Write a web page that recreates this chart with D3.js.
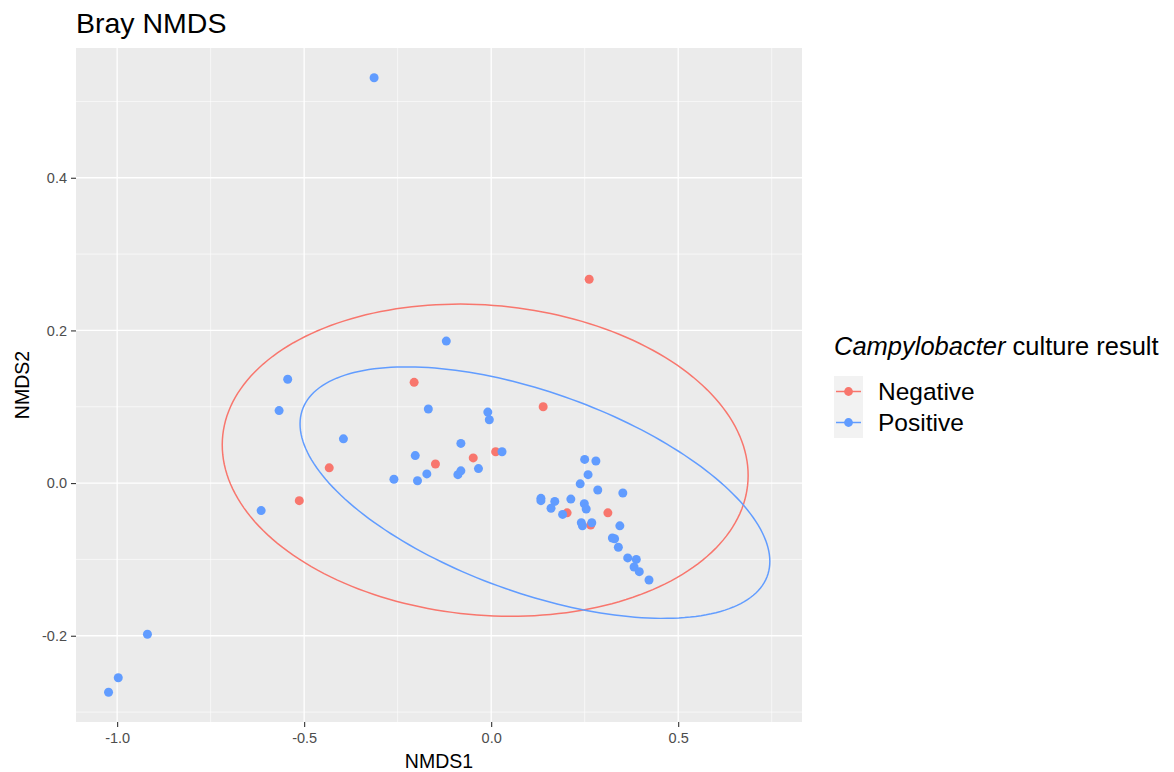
<!DOCTYPE html>
<html>
<head>
<meta charset="utf-8">
<script src="https://cdn.jsdelivr.net/npm/d3@7"></script>
<style>
  body { margin: 0; background: #fff; }
  svg { font-family: "Liberation Sans", Arial, sans-serif; }
</style>
</head>
<body>
<div id="root"></div>
<script>
// NMDS scores, [NMDS1, NMDS2]
const negativePoints = [
  [0.262, 0.267], [-0.206, 0.132], [0.139, 0.100], [-0.433, 0.020],
  [-0.149, 0.025], [-0.048, 0.033], [0.012, 0.041], [-0.513, -0.023],
  [0.203, -0.039], [0.312, -0.039], [0.266, -0.055]
];
const positivePoints = [
  [-0.313, 0.531], [-0.120, 0.186], [-0.544, 0.136], [-0.567, 0.095],
  [-0.395, 0.058], [-0.168, 0.097], [-0.009, 0.093], [-0.005, 0.083],
  [-0.081, 0.052], [-0.203, 0.036], [0.029, 0.041], [-0.172, 0.012],
  [-0.197, 0.003], [-0.260, 0.005], [-0.089, 0.011], [-0.081, 0.016],
  [-0.034, 0.019], [-0.615, -0.036], [-0.919, -0.198], [-0.997, -0.255],
  [-1.023, -0.274],
  [0.250, 0.031], [0.280, 0.029], [0.259, 0.011], [0.238, -0.001],
  [0.285, -0.009], [0.352, -0.013], [0.133, -0.020], [0.133, -0.023],
  [0.170, -0.024], [0.213, -0.021], [0.160, -0.033], [0.249, -0.027],
  [0.254, -0.034], [0.191, -0.041], [0.241, -0.052], [0.244, -0.056],
  [0.269, -0.052], [0.344, -0.056], [0.324, -0.072], [0.330, -0.073],
  [0.340, -0.084], [0.365, -0.098], [0.388, -0.100], [0.382, -0.110],
  [0.396, -0.116], [0.422, -0.127]
];
// ellipse: centre x, centre y, x amplitude, y amplitude (cos), y amplitude (sin)
const negativeEllipse = [-0.016, 0.030, 0.703, -0.020, 0.2035];
const positiveEllipse = [0.117, -0.0125, 0.628, -0.090, 0.138];

const groups = ["Negative", "Positive"];
const groupColors = ["#F8766D", "#619CFF"];
const xTicks = [-1.0, -0.5, 0.0, 0.5];
const yTicks = [-0.2, 0.0, 0.2, 0.4];
const xMinor = [-0.75, -0.25, 0.25, 0.75];
const yMinor = [-0.3, -0.1, 0.1, 0.3, 0.5];

const width = 1174, height = 772;
const panel = { left: 76, right: 802, top: 48, bottom: 722 };

const svg = d3.select("#root").append("svg")
  .attr("width", width).attr("height", height);

const x = d3.scaleLinear().domain([-1.11, 0.831]).range([panel.left, panel.right]);
const y = d3.scaleLinear().domain([-0.313, 0.570]).range([panel.bottom, panel.top]);

// panel background + grid
svg.append("rect")
  .attr("x", panel.left).attr("y", panel.top)
  .attr("width", panel.right - panel.left).attr("height", panel.bottom - panel.top)
  .attr("fill", "#EBEBEB");

const grid = svg.append("g");
grid.selectAll(".xminor").data(xMinor).enter().append("line")
  .attr("x1", d => x(d)).attr("x2", d => x(d))
  .attr("y1", panel.top).attr("y2", panel.bottom)
  .attr("stroke", "#fff").attr("stroke-width", 0.6);
grid.selectAll(".yminor").data(yMinor).enter().append("line")
  .attr("y1", d => y(d)).attr("y2", d => y(d))
  .attr("x1", panel.left).attr("x2", panel.right)
  .attr("stroke", "#fff").attr("stroke-width", 0.6);
grid.selectAll(".xmajor").data(xTicks).enter().append("line")
  .attr("x1", d => x(d)).attr("x2", d => x(d))
  .attr("y1", panel.top).attr("y2", panel.bottom)
  .attr("stroke", "#fff").attr("stroke-width", 1.3);
grid.selectAll(".ymajor").data(yTicks).enter().append("line")
  .attr("y1", d => y(d)).attr("y2", d => y(d))
  .attr("x1", panel.left).attr("x2", panel.right)
  .attr("stroke", "#fff").attr("stroke-width", 1.3);

// axes
const xAxis = svg.append("g")
  .attr("transform", "translate(0," + panel.bottom + ")")
  .call(d3.axisBottom(x).tickValues(xTicks).tickFormat(d3.format(".1f")).tickSize(5).tickPadding(6));
const yAxis = svg.append("g")
  .attr("transform", "translate(" + panel.left + ",0)")
  .call(d3.axisLeft(y).tickValues(yTicks).tickFormat(d3.format(".1f")).tickSize(5).tickPadding(4));
[xAxis, yAxis].forEach(a => {
  a.select(".domain").remove();
  a.selectAll(".tick line").attr("stroke", "#333333").attr("stroke-width", 1.1);
  a.selectAll(".tick text")
    .attr("fill", "#4D4D4D")
    .style("font-size", "14.5px")
    .style("font-family", "'Liberation Sans', Arial, sans-serif")
    .text(d => d3.format(".1f")(d).replace("−", "-"));
});

// ellipses
const ellipseLine = d3.line().x(d => x(d[0])).y(d => y(d[1]));
function ellipsePath(e) {
  const pts = d3.range(0, 201).map(i => {
    const t = i / 200 * 2 * Math.PI;
    return [e[0] + e[2] * Math.cos(t), e[1] + e[3] * Math.cos(t) + e[4] * Math.sin(t)];
  });
  return ellipseLine(pts);
}
[negativeEllipse, positiveEllipse].forEach((e, i) => {
  svg.append("path")
    .attr("d", ellipsePath(e))
    .attr("fill", "none")
    .attr("stroke", groupColors[i])
    .attr("stroke-width", 1.5);
});

// points
[negativePoints, positivePoints].forEach((pts, i) => {
  svg.append("g").selectAll("circle").data(pts).enter().append("circle")
    .attr("cx", d => x(d[0]))
    .attr("cy", d => y(d[1]))
    .attr("r", 4.5)
    .attr("fill", groupColors[i]);
});

// titles
svg.append("text")
  .attr("x", panel.left).attr("y", 33)
  .style("font-size", "28.5px").attr("fill", "#000")
  .text("Bray NMDS");
svg.append("text")
  .attr("x", (panel.left + panel.right) / 2).attr("y", 768)
  .attr("text-anchor", "middle")
  .style("font-size", "19.5px").attr("fill", "#000")
  .text("NMDS1");
svg.append("text")
  .attr("transform", "translate(29," + (panel.top + panel.bottom) / 2 + ") rotate(-90)")
  .attr("text-anchor", "middle")
  .style("font-size", "19.5px").attr("fill", "#000")
  .text("NMDS2");

// legend
const legend = svg.append("g").attr("transform", "translate(834,0)");
const legendTitle = legend.append("text").attr("x", 0).attr("y", 355)
  .style("font-size", "25.5px").attr("fill", "#000");
legendTitle.append("tspan").style("font-style", "italic").text("Campylobacter");
legendTitle.append("tspan").text(" culture result");

const keys = legend.selectAll(".key").data(groups).enter().append("g")
  .attr("transform", (d, i) => "translate(0," + (376 + i * 31) + ")");
keys.append("rect")
  .attr("width", 29).attr("height", 31).attr("fill", "#F2F2F2");
keys.append("line")
  .attr("x1", 2).attr("x2", 27).attr("y1", 15.5).attr("y2", 15.5)
  .attr("stroke", (d, i) => groupColors[i]).attr("stroke-width", 1.5);
keys.append("circle")
  .attr("cx", 14.5).attr("cy", 15.5).attr("r", 4.4)
  .attr("fill", (d, i) => groupColors[i]);
keys.append("text")
  .attr("x", 44).attr("y", 24)
  .style("font-size", "24.5px").attr("fill", "#000")
  .text(d => d);
</script>
</body>
</html>
